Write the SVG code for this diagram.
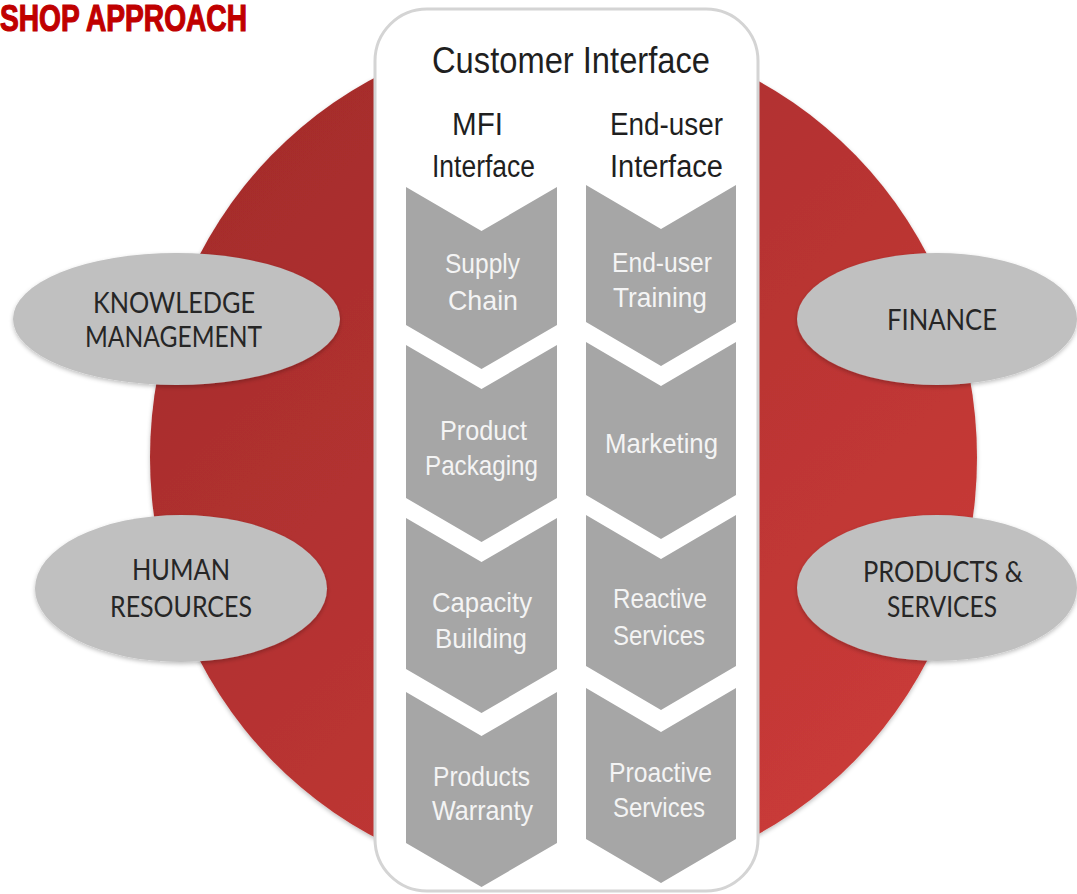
<svg xmlns="http://www.w3.org/2000/svg" width="1077" height="894" viewBox="0 0 1077 894">
<style>
.title{font-family:"Liberation Sans",Arial,sans-serif;font-weight:bold;font-size:36px;fill:#c00000;stroke:#c00000;stroke-width:1.2px}
.head{font-family:"Liberation Sans",Arial,sans-serif;font-size:36px;fill:#1f1f1f}
.sub{font-family:"Liberation Sans",Arial,sans-serif;font-size:31px;fill:#1f1f1f}
.chev{fill:#a6a6a6}
.ct{font-family:"Liberation Sans",Arial,sans-serif;font-size:28px;fill:#f4f4f4}
.oval{fill:#c0c0c0}
.ot{font-family:"Lato","Liberation Sans",Arial,sans-serif;font-size:28px;fill:#262626}
</style>
<defs>
<linearGradient id="red" gradientUnits="userSpaceOnUse" x1="150" y1="60" x2="977" y2="890">
<stop offset="0" stop-color="#a02a2a"/>
<stop offset="1" stop-color="#d03d3a"/>
</linearGradient>
<filter id="sh" x="-10%" y="-10%" width="120%" height="125%">
<feGaussianBlur in="SourceAlpha" stdDeviation="2"/>
<feOffset dx="0" dy="2" result="b"/>
<feFlood flood-color="#000" flood-opacity="0.25"/>
<feComposite in2="b" operator="in"/>
<feMerge><feMergeNode/><feMergeNode in="SourceGraphic"/></feMerge>
</filter>
</defs>
<rect width="1077" height="894" fill="#ffffff"/>
<text class="title" x="0" y="31" textLength="247" lengthAdjust="spacingAndGlyphs">SHOP APPROACH</text>
<g id="circle">
<ellipse cx="563.5" cy="457.5" rx="413.5" ry="427" fill="url(#red)" filter="url(#sh)"/>
</g>
<g id="customer-interface">
<rect x="375" y="9" width="383" height="882" rx="52" ry="52" fill="#ffffff" stroke="#d4d4d4" stroke-width="3"/>
<text class="head" x="432" y="73" textLength="278" lengthAdjust="spacingAndGlyphs">Customer Interface</text>
</g>
<g id="mfi-header">
<text class="sub" x="452" y="135" textLength="51" lengthAdjust="spacingAndGlyphs">MFI</text>
<text class="sub" x="432" y="177" textLength="103" lengthAdjust="spacingAndGlyphs">Interface</text>
</g>
<g id="enduser-header">
<text class="sub" x="610" y="135" textLength="113" lengthAdjust="spacingAndGlyphs">End-user</text>
<text class="sub" x="610" y="177" textLength="113" lengthAdjust="spacingAndGlyphs">Interface</text>
</g>
<g id="supply-chain">
<path class="chev" d="M406,187 L481.5,231 L557,187 L557,325 L481.5,369 L406,325 Z"/>
<text class="ct" x="445" y="273" textLength="75" lengthAdjust="spacingAndGlyphs">Supply</text>
<text class="ct" x="448" y="310" textLength="70" lengthAdjust="spacingAndGlyphs">Chain</text>
</g>
<g id="product-packaging">
<path class="chev" d="M406,345 L481.5,389 L557,345 L557,498 L481.5,542 L406,498 Z"/>
<text class="ct" x="440" y="440" textLength="87" lengthAdjust="spacingAndGlyphs">Product</text>
<text class="ct" x="425" y="475" textLength="113" lengthAdjust="spacingAndGlyphs">Packaging</text>
</g>
<g id="capacity-building">
<path class="chev" d="M406,518 L481.5,562 L557,518 L557,669 L481.5,713 L406,669 Z"/>
<text class="ct" x="432" y="612" textLength="100" lengthAdjust="spacingAndGlyphs">Capacity</text>
<text class="ct" x="435" y="648" textLength="92" lengthAdjust="spacingAndGlyphs">Building</text>
</g>
<g id="products-warranty">
<path class="chev" d="M406,692 L481.5,736 L557,692 L557,843 L481.5,887 L406,843 Z"/>
<text class="ct" x="433" y="786" textLength="97" lengthAdjust="spacingAndGlyphs">Products</text>
<text class="ct" x="432" y="820" textLength="101" lengthAdjust="spacingAndGlyphs">Warranty</text>
</g>
<g id="enduser-training">
<path class="chev" d="M586,185 L661,229 L736,185 L736,322 L661,366 L586,322 Z"/>
<text class="ct" x="612" y="272" textLength="100" lengthAdjust="spacingAndGlyphs">End-user</text>
<text class="ct" x="613" y="307" textLength="94" lengthAdjust="spacingAndGlyphs">Training</text>
</g>
<g id="marketing">
<path class="chev" d="M586,342 L661,386 L736,342 L736,495 L661,539 L586,495 Z"/>
<text class="ct" x="605" y="453" textLength="113" lengthAdjust="spacingAndGlyphs">Marketing</text>
</g>
<g id="reactive-services">
<path class="chev" d="M586,515 L661,559 L736,515 L736,666 L661,710 L586,666 Z"/>
<text class="ct" x="613" y="608" textLength="94" lengthAdjust="spacingAndGlyphs">Reactive</text>
<text class="ct" x="613" y="645" textLength="92" lengthAdjust="spacingAndGlyphs">Services</text>
</g>
<g id="proactive-services">
<path class="chev" d="M586,688 L661,732 L736,688 L736,839 L661,883 L586,839 Z"/>
<text class="ct" x="609" y="782" textLength="103" lengthAdjust="spacingAndGlyphs">Proactive</text>
<text class="ct" x="613" y="817" textLength="92" lengthAdjust="spacingAndGlyphs">Services</text>
</g>
<g id="knowledge-management">
<ellipse class="oval" cx="176.5" cy="319" rx="163.5" ry="66" filter="url(#sh)"/>
<text class="ot" x="93" y="313" textLength="162" lengthAdjust="spacingAndGlyphs">KNOWLEDGE</text>
<text class="ot" x="85" y="347" textLength="177" lengthAdjust="spacingAndGlyphs">MANAGEMENT</text>
</g>
<g id="human-resources">
<ellipse class="oval" cx="181" cy="588.5" rx="146" ry="73.5" filter="url(#sh)"/>
<text class="ot" x="132" y="580" textLength="98" lengthAdjust="spacingAndGlyphs">HUMAN</text>
<text class="ot" x="110" y="617" textLength="142" lengthAdjust="spacingAndGlyphs">RESOURCES</text>
</g>
<g id="finance">
<ellipse class="oval" cx="937" cy="319" rx="140" ry="66" filter="url(#sh)"/>
<text class="ot" x="887" y="330" textLength="110" lengthAdjust="spacingAndGlyphs">FINANCE</text>
</g>
<g id="products-services">
<ellipse class="oval" cx="937" cy="588" rx="140" ry="73" filter="url(#sh)"/>
<text class="ot" x="863" y="582" textLength="160" lengthAdjust="spacingAndGlyphs">PRODUCTS &amp;</text>
<text class="ot" x="887" y="617" textLength="110" lengthAdjust="spacingAndGlyphs">SERVICES</text>
</g>
<g id="connectors"></g>
</svg>
